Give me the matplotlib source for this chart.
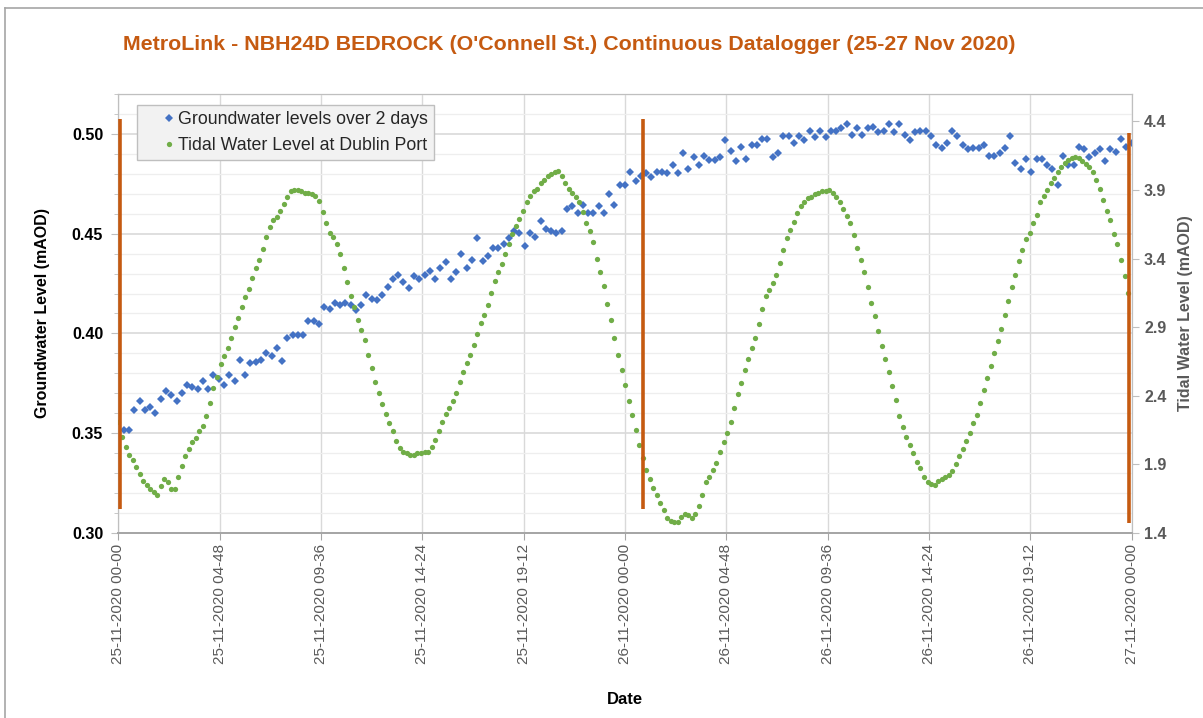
#!/usr/bin/env python3
"""MetroLink NBH24D bedrock datalogger vs Dublin Port tide, 25-27 Nov 2020."""

import matplotlib

matplotlib.use("Agg")
import matplotlib.pyplot as plt
import matplotlib.dates as mdates
from matplotlib.lines import Line2D
from matplotlib.ticker import MultipleLocator, FixedLocator
import pandas as pd

plt.rcParams["font.family"] = ["Liberation Sans", "DejaVu Sans"]

OUTPUT = "out.png"

# Groundwater level (mAOD), 15-minute readings from 25-11-2020 00:15
GW_START = "2020-11-25 00:15"
GW_LEVEL = [
    0.3518, 0.3518, 0.3618, 0.3660, 0.3618, 0.3630, 0.3600, 0.3670,
    0.3710, 0.3690, 0.3660, 0.3700, 0.3740, 0.3730, 0.3720, 0.3760,
    0.3720, 0.3790, 0.3770, 0.3740, 0.3790, 0.3760, 0.3865, 0.3790,
    0.3850, 0.3857, 0.3865, 0.3900, 0.3887, 0.3927, 0.3860, 0.3978,
    0.3990, 0.3990, 0.3990, 0.4060, 0.4060, 0.4045, 0.4130,
    0.4123, 0.4153, 0.4140, 0.4153, 0.4140, 0.4118, 0.4140, 0.4193,
    0.4173, 0.4168, 0.4193, 0.4232, 0.4273, 0.4295, 0.4257, 0.4227,
    0.4290, 0.4273, 0.4295, 0.4315, 0.4273, 0.4328, 0.4357, 0.4273,
    0.4307, 0.4398, 0.4328, 0.4368, 0.4477, 0.4365, 0.4387, 0.4427,
    0.4427, 0.4448, 0.4477, 0.4515, 0.4503,
    0.4437, 0.4503, 0.4482, 0.4563, 0.4523, 0.4515, 0.4502, 0.4515,
    0.4623, 0.4637, 0.4603, 0.4643, 0.4603, 0.4603, 0.4637, 0.4603,
    0.4697, 0.4643, 0.4743, 0.4743, 0.4810, 0.4762, 0.4787, 0.4803,
    0.4782, 0.4810, 0.4810, 0.4803, 0.4845, 0.4803, 0.4903, 0.4823,
    0.4885, 0.4845, 0.4890, 0.4870, 0.4870, 0.4885, 0.4970,
    0.4912, 0.4865, 0.4932, 0.4873, 0.4945, 0.4945, 0.4973, 0.4973,
    0.4882, 0.4903, 0.4987, 0.4990, 0.4952, 0.4987, 0.4970, 0.5015,
    0.4985, 0.5015, 0.4985, 0.5012, 0.5012, 0.5028, 0.5048, 0.4993,
    0.5028, 0.4993, 0.5028, 0.5035, 0.5007, 0.5015, 0.5048, 0.5007,
    0.5048, 0.4993, 0.4970, 0.5007, 0.5012, 0.5012, 0.4987, 0.4945,
    0.4928, 0.4952, 0.5012, 0.4990, 0.4945, 0.4923, 0.4928, 0.4928,
    0.4945, 0.4890, 0.4890, 0.4903, 0.4927, 0.4987, 0.4852, 0.4823,
    0.4873, 0.4810, 0.4873, 0.4873, 0.4845, 0.4823, 0.4743, 0.4890,
    0.4845, 0.4845, 0.4932, 0.4923, 0.4882, 0.4903, 0.4923, 0.4865,
    0.4923, 0.4910, 0.4973, 0.4932, 0.4952,
]

# Tidal level at Dublin Port (mAOD), 10-minute readings from 25-11-2020 00:00
TIDE_START = "2020-11-25 00:00"
TIDE_LEVEL = [
    2.21, 2.10, 2.03, 1.97, 1.93, 1.88,
    1.83, 1.78, 1.75, 1.72, 1.70, 1.68,
    1.74, 1.79, 1.77, 1.72, 1.72, 1.81,
    1.89, 1.96, 2.01, 2.06, 2.09, 2.14,
    2.18, 2.25, 2.35, 2.46, 2.54, 2.63,
    2.69, 2.75, 2.82, 2.90, 2.97, 3.05,
    3.12, 3.18, 3.26, 3.33, 3.39, 3.47,
    3.56, 3.63, 3.68, 3.70, 3.75, 3.80,
    3.85, 3.89, 3.90, 3.90, 3.89, 3.88,
    3.88, 3.87, 3.86, 3.82, 3.74, 3.66,
    3.59, 3.56, 3.51, 3.43, 3.33, 3.23,
    3.13, 3.05, 2.95, 2.88, 2.81, 2.70,
    2.60, 2.50, 2.42, 2.34, 2.27, 2.20,
    2.14, 2.07, 2.02, 1.99, 1.98, 1.97,
    1.97, 1.98, 1.98, 1.99, 1.99, 2.03,
    2.08, 2.14, 2.21, 2.27, 2.31, 2.36,
    2.42, 2.50, 2.57, 2.64, 2.70, 2.77,
    2.85, 2.93, 2.99, 3.06, 3.15, 3.24,
    3.30, 3.36, 3.43, 3.51, 3.58, 3.64,
    3.69, 3.75, 3.81, 3.86, 3.89, 3.91,
    3.95, 3.97, 4.00, 4.02, 4.03, 4.04,
    4.00, 3.95, 3.91, 3.88, 3.85, 3.81,
    3.74, 3.66, 3.60, 3.52, 3.40, 3.30,
    3.20, 3.07, 2.95, 2.82, 2.70, 2.59,
    2.48, 2.36, 2.26, 2.15, 2.04, 1.95,
    1.86, 1.79, 1.73, 1.68, 1.62, 1.57,
    1.51, 1.49, 1.48, 1.48, 1.52, 1.54,
    1.53, 1.51, 1.54, 1.60, 1.68, 1.77,
    1.81, 1.86, 1.91, 1.99, 2.06, 2.13,
    2.21, 2.31, 2.41, 2.49, 2.59, 2.67,
    2.75, 2.82, 2.92, 3.03, 3.13, 3.17,
    3.22, 3.28, 3.37, 3.46, 3.55, 3.61,
    3.67, 3.73, 3.78, 3.81, 3.84, 3.85,
    3.87, 3.88, 3.89, 3.89, 3.90, 3.88,
    3.85, 3.81, 3.76, 3.71, 3.66, 3.57,
    3.48, 3.39, 3.30, 3.19, 3.08, 2.98,
    2.87, 2.76, 2.67, 2.57, 2.47, 2.37,
    2.25, 2.17, 2.10, 2.04, 1.98, 1.92,
    1.87, 1.81, 1.77, 1.76, 1.75, 1.78,
    1.79, 1.81, 1.82, 1.85, 1.90, 1.96,
    2.01, 2.07, 2.13, 2.20, 2.26, 2.35,
    2.44, 2.53, 2.62, 2.71, 2.80, 2.89,
    2.99, 3.09, 3.19, 3.28, 3.38, 3.46,
    3.54, 3.59, 3.66, 3.72, 3.81, 3.86,
    3.90, 3.95, 3.99, 4.03, 4.07, 4.10,
    4.12, 4.13, 4.14, 4.13, 4.11, 4.09,
    4.07, 4.03, 3.97, 3.91, 3.83, 3.75,
    3.68, 3.58, 3.51, 3.39, 3.27, 3.15,
]

# Orange marker lines drawn over the chart (time, bottom/top in groundwater mAOD)
MARK_TIMES = ["2020-11-25 00:04", "2020-11-26 00:50", "2020-11-26 23:53"]
MARK_LOW = [0.312, 0.312, 0.305]
MARK_HIGH = [0.5075, 0.5075, 0.5005]

BLUE = "#4472C4"
GREEN = "#70AD47"
ORANGE = "#C55A11"
GRAY_TXT = "#595959"


def main():
    gw_t = pd.date_range(GW_START, periods=len(GW_LEVEL), freq="15min")
    tide_t = pd.date_range(TIDE_START, periods=len(TIDE_LEVEL), freq="10min")
    mark_t = pd.to_datetime(MARK_TIMES)
    ticks = pd.date_range("2020-11-25 00:00", "2020-11-27 00:00", freq="288min")

    fig = plt.figure(figsize=(12.03, 7.18), dpi=100)
    ax = fig.add_axes([0.0985, 0.2577, 0.8421, 0.6114])
    ax2 = ax.twinx()

    # outer chart frame (left and top edges visible)
    fig.add_artist(Line2D([5 / 1203, 5 / 1203], [0, 1 - 8 / 718], color="#a6a6a6", lw=1.2))
    fig.add_artist(Line2D([5 / 1203, 1], [1 - 8 / 718, 1 - 8 / 718], color="#a6a6a6", lw=1.2))

    ax.plot(gw_t, GW_LEVEL, linestyle="none", marker="D", markersize=4.0,
            color=BLUE, markeredgewidth=0, label="Groundwater levels over 2 days", zorder=3)
    ax2.plot(tide_t, TIDE_LEVEL, linestyle="none", marker="o", markersize=3.8,
             color=GREEN, markeredgewidth=0, label="Tidal Water Level at Dublin Port", zorder=3)
    ax2.vlines(mark_t, MARK_LOW, MARK_HIGH, transform=ax.transData,
               color=ORANGE, lw=2.6, zorder=5)

    ax.set_xlim(ticks[0], ticks[-1])
    ax.set_ylim(0.30, 0.52)
    ax2.set_ylim(1.4, 4.6)

    ax.xaxis.set_major_locator(FixedLocator(mdates.date2num(ticks)))
    ax.xaxis.set_major_formatter(mdates.DateFormatter("%d-%m-%Y %H-%M"))
    ax.yaxis.set_major_locator(MultipleLocator(0.05))
    ax.yaxis.set_minor_locator(MultipleLocator(0.01))
    ax.yaxis.set_major_formatter(lambda v, p: f"{v:.2f}")
    ax2.yaxis.set_major_locator(FixedLocator([1.4, 1.9, 2.4, 2.9, 3.4, 3.9, 4.4]))
    ax2.yaxis.set_major_formatter(lambda v, p: f"{v:.1f}")

    ax.grid(True, axis="x", which="major", color="#d9d9d9", lw=1.0)
    ax.grid(True, axis="y", which="major", color="#d9d9d9", lw=1.2)
    ax.grid(True, axis="y", which="minor", color="#eeeeee", lw=0.9)
    ax.set_axisbelow(True)

    for a in (ax, ax2):
        for side in ("top", "right", "left"):
            a.spines[side].set_color("#bfbfbf")
        a.spines["bottom"].set_color("#a6a6a6")
        a.spines["bottom"].set_linewidth(1.3)

    ax.tick_params(axis="x", which="major", length=5, color="#a6a6a6", labelsize=11,
                   labelcolor=GRAY_TXT, labelrotation=90, pad=3)
    ax.tick_params(axis="y", which="major", length=5, color="#bfbfbf", labelsize=11.5,
                   labelcolor="black", pad=6)
    ax.tick_params(axis="y", which="minor", length=3, color="#bfbfbf")
    ax2.tick_params(axis="y", which="major", length=5, color="#bfbfbf", labelsize=11.5,
                    labelcolor=GRAY_TXT, pad=4)
    for lbl in ax.get_yticklabels() + ax2.get_yticklabels():
        lbl.set_fontweight("bold")

    ax.set_ylabel("Groundwater Level (mAOD)", fontsize=11.5, fontweight="bold", color="black")
    ax.yaxis.set_label_coords(-0.0676, 0.5)
    ax2.set_ylabel("Tidal Water Level (mAOD)", fontsize=11.5, fontweight="bold", color=GRAY_TXT)
    ax2.yaxis.set_label_coords(1.0459, 0.5)
    ax.set_xlabel("Date", fontsize=12, fontweight="bold", color="black")
    ax.xaxis.set_label_coords(0.5, -0.362)

    fig.text(0.473, 1 - 45 / 718,
             "MetroLink - NBH24D BEDROCK (O'Connell St.) Continuous Datalogger (25-27 Nov 2020)",
             ha="center", va="center", fontsize=15.4, fontweight="bold", color=ORANGE)

    h1, l1 = ax.get_legend_handles_labels()
    h2, l2 = ax2.get_legend_handles_labels()
    leg = ax2.legend(h1 + h2, l1 + l2, loc="upper left", bbox_to_anchor=(0.018, 0.975),
                     borderaxespad=0, fontsize=12.8, frameon=True, fancybox=False,
                     handletextpad=-0.95, handlelength=2.9, borderpad=0.35,
                     labelspacing=0.5, markerscale=1.0)
    leg.get_frame().set_facecolor("#f2f2f2")
    leg.get_frame().set_edgecolor("#bfbfbf")
    leg.get_frame().set_alpha(1.0)
    for txt in leg.get_texts():
        txt.set_color("#262626")

    fig.savefig(OUTPUT, dpi=100)
    plt.close(fig)


if __name__ == "__main__":
    main()
